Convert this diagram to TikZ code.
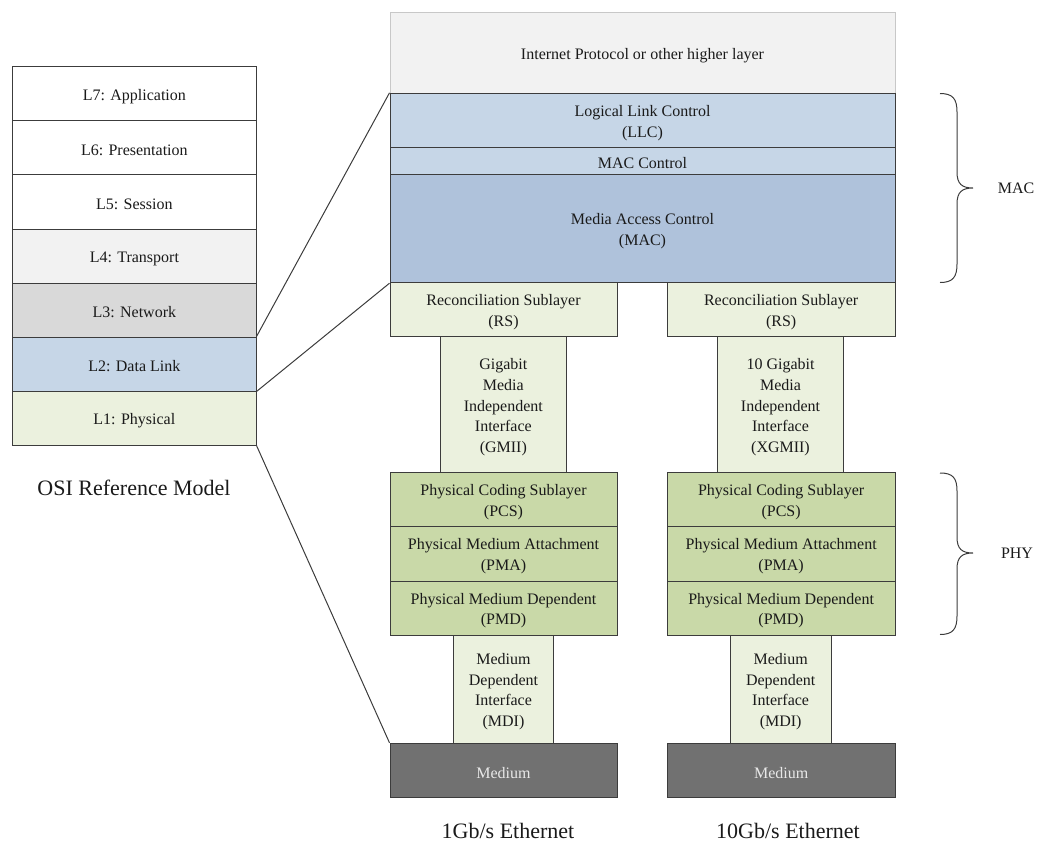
\documentclass[tikz,border=0pt]{standalone}
\usepackage{fontspec}
\setmainfont{Liberation Serif}
\definecolor{edge}{HTML}{3C3C3C}
\definecolor{ink}{HTML}{1A1A1A}
\definecolor{ipfill}{HTML}{F2F2F2}
\definecolor{ipedge}{HTML}{C8C8C8}
\definecolor{lightgray}{HTML}{F2F2F2}
\definecolor{midgray}{HTML}{D9D9D9}
\definecolor{paleblue}{HTML}{C6D6E7}
\definecolor{deepblue}{HTML}{AFC2DB}
\definecolor{palegreen}{HTML}{EBF1DE}
\definecolor{olivegreen}{HTML}{C9D9A8}
\definecolor{mediumfill}{HTML}{717171}
\definecolor{mediumtext}{HTML}{E8E8E8}
% one rectangular layer: [options] name, x1, y1, x2, y2, text
\newcommand{\layerbox}[7][]{%
  \node[box,#1,minimum width={#5-#3},minimum height={#6-#4}] (#2)
    at ({(#3+#5)/2},{(#4+#6)/2}) {};
  \node[boxtext,#1,draw=none,fill=none] (#2-text) at ([yshift=-2.5pt]#2.center) {#7};}
\begin{document}
\begin{tikzpicture}[x=1pt,y=-1pt,
  box/.style={draw=edge,line width=1pt,inner sep=0pt},
  boxtext/.style={inner sep=0pt,align=center,
    font=\fontsize{16}{20.7}\selectfont,text=ink},
  caption/.style={font=\fontsize{22}{26}\selectfont,text=ink},
  side/.style={font=\fontsize{16}{19}\selectfont,text=ink},
  link/.style={draw=edge,line width=1pt},
  curl/.style={draw=edge,line width=1pt}]
\useasboundingbox (0,0) rectangle (1044,844);

% OSI reference model stack
\layerbox[fill=white]{l7}{12.7}{66.7}{256}{120.8}{L7: Application}
\layerbox[fill=white]{l6}{12.7}{120.8}{256}{174.9}{L6: Presentation}
\layerbox[fill=white]{l5}{12.7}{174.9}{256}{229}{L5: Session}
\layerbox[fill=lightgray]{l4}{12.7}{229}{256}{283}{L4: Transport}
\layerbox[fill=midgray]{l3}{12.7}{283}{256}{337}{L3: Network}
\layerbox[fill=paleblue]{l2}{12.7}{337}{256}{391}{L2: Data Link}
\layerbox[fill=palegreen]{l1}{12.7}{391}{256}{445}{L1: Physical}
\node[caption] (osi) at (134,488) {OSI Reference Model};

% shared upper layers
\layerbox[fill=ipfill,draw=ipedge]{ip}{390}{12.3}{895}{93.3}{Internet Protocol or other higher layer}
\layerbox[fill=paleblue]{llc}{390}{93.3}{895}{147.3}{Logical Link Control\\(LLC)}
\layerbox[fill=paleblue]{macctl}{390}{147.3}{895}{174.3}{MAC Control}
\layerbox[fill=deepblue]{mac}{390}{174.3}{895}{282.7}{Media Access Control\\(MAC)}

% 1 Gb/s column
\layerbox[fill=palegreen]{rsa}{390}{282.7}{617}{336.7}{Reconciliation Sublayer\\(RS)}
\layerbox[fill=palegreen]{gmii}{440.7}{336.7}{566}{472.7}{Gigabit\\Media\\Independent\\Interface\\(GMII)}
\layerbox[fill=olivegreen]{pcsa}{390}{472.7}{617}{526.7}{Physical Coding Sublayer\\(PCS)}
\layerbox[fill=olivegreen]{pmaa}{390}{526.7}{617}{581}{Physical Medium Attachment\\(PMA)}
\layerbox[fill=olivegreen]{pmda}{390}{581}{617}{635}{Physical Medium Dependent\\(PMD)}
\layerbox[fill=palegreen]{mdia}{453.3}{635}{553.7}{743.3}{Medium\\Dependent\\Interface\\(MDI)}
\layerbox[fill=mediumfill,text=mediumtext]{meda}{390}{743.3}{617}{797.7}{Medium}
\node[caption] (gbe) at (508,831) {1Gb/s Ethernet};

% 10 Gb/s column
\layerbox[fill=palegreen]{rsb}{667.3}{282.7}{895}{336.7}{Reconciliation Sublayer\\(RS)}
\layerbox[fill=palegreen]{xgmii}{717.7}{336.7}{843.3}{472.7}{10 Gigabit\\Media\\Independent\\Interface\\(XGMII)}
\layerbox[fill=olivegreen]{pcsb}{667.3}{472.7}{895}{526.7}{Physical Coding Sublayer\\(PCS)}
\layerbox[fill=olivegreen]{pmab}{667.3}{526.7}{895}{581}{Physical Medium Attachment\\(PMA)}
\layerbox[fill=olivegreen]{pmdb}{667.3}{581}{895}{635}{Physical Medium Dependent\\(PMD)}
\layerbox[fill=palegreen]{mdib}{730.3}{635}{831}{743.3}{Medium\\Dependent\\Interface\\(MDI)}
\layerbox[fill=mediumfill,text=mediumtext]{medb}{667.3}{743.3}{895}{797.7}{Medium}
\node[caption] (xgbe) at (788,831) {10Gb/s Ethernet};

% mapping lines from the OSI stack
\draw[link] (l2.north east) -- (llc.north west);
\draw[link] (l2.south east) -- (mac.south west);
\draw[link] (l1.south east) -- (meda.north west);

% braces
\coordinate (mactip) at (973,188);
\coordinate (phytip) at (973,553);
\draw[curl] (940,93.5) .. controls (953,93.5) and (957,99) .. (957,112)
  -- (957,172) .. controls (957,184) and (962,188) .. (mactip)
  .. controls (962,188) and (957,192) .. (957,204)
  -- (957,264) .. controls (957,277) and (953,282.5) .. (940,282.5);
\draw[curl] (940,473) .. controls (953,473) and (957,478) .. (957,491)
  -- (957,537) .. controls (957,549) and (962,553) .. (phytip)
  .. controls (962,553) and (957,557) .. (957,569)
  -- (957,616) .. controls (957,629) and (953,634.5) .. (940,634.5);
\node[side] (maclbl) at (1016,188) {MAC};
\node[side] (phylbl) at (1017,553) {PHY};
\end{tikzpicture}
\end{document}
